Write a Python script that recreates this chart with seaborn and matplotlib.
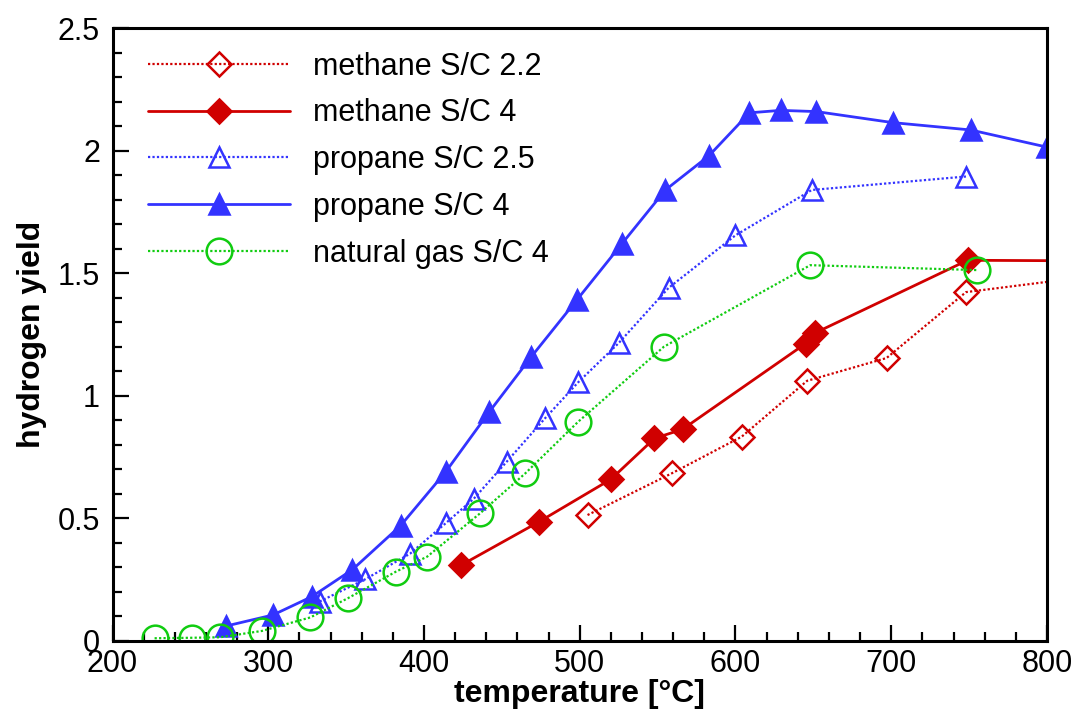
import matplotlib
matplotlib.use("Agg")
import matplotlib.pyplot as plt
from matplotlib.ticker import MultipleLocator
import seaborn as sns

# temperature [°C] and hydrogen yield
ch4_22_t = [505, 559, 604, 646, 697, 748, 850]
ch4_22_y = [0.513, 0.683, 0.833, 1.061, 1.154, 1.423, 1.505]

ch4_4_t = [424, 474, 520, 548, 566, 645, 651, 749, 850]
ch4_4_y = [0.309, 0.486, 0.659, 0.826, 0.863, 1.213, 1.256, 1.553, 1.55]

c3_25_t = [333, 362, 391, 414, 432, 453, 478, 499, 525, 557, 600, 649, 748]
c3_25_y = [0.16, 0.25, 0.355, 0.48, 0.58, 0.73, 0.91, 1.055, 1.215, 1.44, 1.655, 1.84, 1.895]

c3_4_t = [273, 303, 328, 354, 385, 414, 442, 469, 498, 527, 555, 583, 609, 629, 652, 701, 751, 800]
c3_4_y = [0.06, 0.105, 0.18, 0.29, 0.47, 0.69, 0.935, 1.16, 1.39, 1.62, 1.84, 1.98,
          2.155, 2.165, 2.16, 2.115, 2.085, 2.015]

ng_4_t = [227, 251, 269, 296, 327, 351, 382, 402, 436, 465, 499, 554, 648, 755]
ng_4_y = [0.01, 0.012, 0.014, 0.04, 0.095, 0.173, 0.282, 0.343, 0.52, 0.683, 0.894, 1.2, 1.533, 1.513]

RED = "#d00000"
BLUE = "#3333ff"
GREEN = "#11cc11"
DOTTED = (0, (1, 1))

sns.set_style("ticks")
plt.rcParams['font.family'] = ['Liberation Sans', 'DejaVu Sans']
plt.rcParams['text.color'] = 'black'
plt.rcParams['axes.labelcolor'] = 'black'
plt.rcParams['xtick.color'] = 'black'
plt.rcParams['ytick.color'] = 'black'

fig = plt.figure(figsize=(10.79, 7.13), dpi=100)
ax = fig.add_axes([0.1043, 0.1014, 0.866, 0.8589])

# label, x, y, colour, line style, marker, filled, marker size
series = [
    ("methane S/C 2.2", ch4_22_t, ch4_22_y, RED, DOTTED, "D", False, 12.5),
    ("methane S/C 4", ch4_4_t, ch4_4_y, RED, "-", "D", True, 12.5),
    ("propane S/C 2.5", c3_25_t, c3_25_y, BLUE, DOTTED, "^", False, 14.5),
    ("propane S/C 4", c3_4_t, c3_4_y, BLUE, "-", "^", True, 14.5),
    ("natural gas S/C 4", ng_4_t, ng_4_y, GREEN, DOTTED, "o", False, 18.5),
]

for label, t, y, color, ls, marker, filled, ms in series:
    sns.lineplot(x=t, y=y, ax=ax, color=color, linestyle=ls,
                 linewidth=2.0 if ls == "-" else 1.6,
                 marker=marker, markersize=ms,
                 markerfacecolor=color if filled else "none",
                 markeredgecolor=color, markeredgewidth=1.8,
                 sort=False, estimator=None, label=label)

ax.set_xlim(200, 800)
ax.set_ylim(0, 2.5)
ax.xaxis.set_major_locator(MultipleLocator(100))
ax.xaxis.set_minor_locator(MultipleLocator(20))
ax.yaxis.set_major_locator(MultipleLocator(0.5))
ax.yaxis.set_minor_locator(MultipleLocator(0.1))
ax.set_yticks([0, 0.5, 1, 1.5, 2, 2.5], ["0", "0.5", "1", "1.5", "2", "2.5"])

ax.tick_params(which="both", direction="in", width=1.6, labelsize=22, color="black",
               labelcolor="black")
ax.tick_params(which="major", length=11.5)
ax.tick_params(which="minor", length=6.5)
ax.tick_params(axis="x", pad=6)
ax.tick_params(axis="y", pad=9)

for side in ax.spines.values():
    side.set_linewidth(2.2)
    side.set_color("black")

ax.set_xlabel("temperature [°C]", fontsize=23, fontweight="bold", labelpad=0)
ax.set_ylabel("hydrogen yield", fontsize=23, fontweight="bold", labelpad=8)

ax.legend(loc="upper left", bbox_to_anchor=(0.038, 0.962), frameon=False,
          fontsize=22, handlelength=4.65, handletextpad=0.75,
          labelspacing=0.55, borderpad=0, borderaxespad=0)

fig.savefig("out.png", dpi=100)
plt.close(fig)
